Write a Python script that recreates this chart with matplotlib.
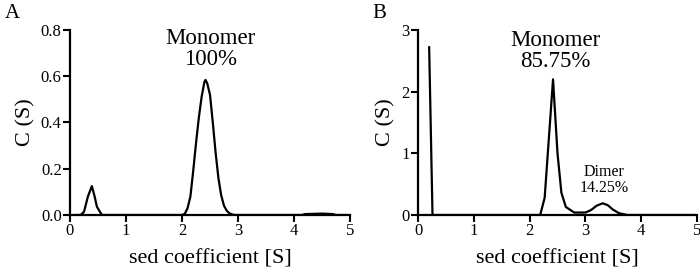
import matplotlib
matplotlib.use("Agg")
import matplotlib.pyplot as plt

plt.rcParams['font.family'] = ['Liberation Serif', 'DejaVu Serif']

# Panel A data
a_x = [0.1, 0.19, 0.25, 0.32, 0.39, 0.44, 0.48, 0.57,
       2.0, 2.05, 2.1, 2.15, 2.2, 2.25, 2.3, 2.35, 2.4, 2.42, 2.45, 2.5, 2.55,
       2.6, 2.65, 2.7, 2.75, 2.8, 2.85, 2.9, 2.95,
       4.14, 4.2, 4.5, 4.69, 4.75, 4.95]
a_y = [0, 0, 0.014, 0.08, 0.125, 0.08, 0.036, 0,
       0, 0.005, 0.03, 0.08, 0.19, 0.31, 0.42, 0.51, 0.575, 0.584, 0.57, 0.52, 0.40,
       0.27, 0.16, 0.085, 0.04, 0.018, 0.007, 0.002, 0,
       0, 0.004, 0.006, 0.004, 0, 0]

# Panel B data
b_x = [0.2, 0.26, 2.19, 2.27, 2.42, 2.5, 2.57, 2.65, 2.8, 3.0, 3.1, 3.2,
       3.31, 3.4, 3.49, 3.6, 3.75, 4.95]
b_y = [2.72, 0, 0, 0.28, 2.2, 1.0, 0.36, 0.13, 0.04, 0.04, 0.08, 0.15,
       0.19, 0.16, 0.09, 0.03, 0, 0]

a_yticks = [0.0, 0.2, 0.4, 0.6, 0.8]
a_yticklabels = ['0.0', '0.2', '0.4', '0.6', '0.8']
b_yticks = [0, 1, 2, 3]
x_ticks = [0, 1, 2, 3, 4, 5]

fig = plt.figure(figsize=(7, 2.7), dpi=100)
axA = fig.add_axes([70/700, 55/270, 280/700, 185/270])
axB = fig.add_axes([418/700, 55/270, 279/700, 185/270])

for ax in (axA, axB):
    ax.spines['top'].set_visible(False)
    ax.spines['right'].set_visible(False)
    for s in ('left', 'bottom'):
        ax.spines[s].set_linewidth(1.6)
    ax.tick_params(direction='out', length=5, width=1.5, labelsize=12, pad=1)
    ax.set_xlim(0, 5)
    ax.set_xticks(x_ticks)
    ax.set_xlabel('sed coefficient [S]', fontsize=16, labelpad=7)
    ax.set_ylabel('C (S)', fontsize=16, labelpad=4)

axA.plot(a_x, a_y, color='black', lw=1.6)
axA.set_ylim(0, 0.8)
axA.set_yticks(a_yticks)
axA.set_yticklabels(a_yticklabels)
axA.text(2.51, 0.718, 'Monomer\n100%', ha='center', va='center', fontsize=16.5, linespacing=1.0)

axB.plot(b_x, b_y, color='black', lw=1.6)
axB.set_ylim(0, 3)
axB.set_yticks(b_yticks)
axB.text(2.46, 2.66, 'Monomer\n85.75%', ha='center', va='center', fontsize=16.5, linespacing=1.0)
axB.text(3.34, 0.57, 'Dimer\n14.25%', ha='center', va='center', fontsize=11.5, linespacing=1.05)

fig.text(5/700, 1 - 18/270, 'A', fontsize=15)
fig.text(372/700, 1 - 18/270, 'B', fontsize=15)

fig.savefig('out.png', dpi=100)
